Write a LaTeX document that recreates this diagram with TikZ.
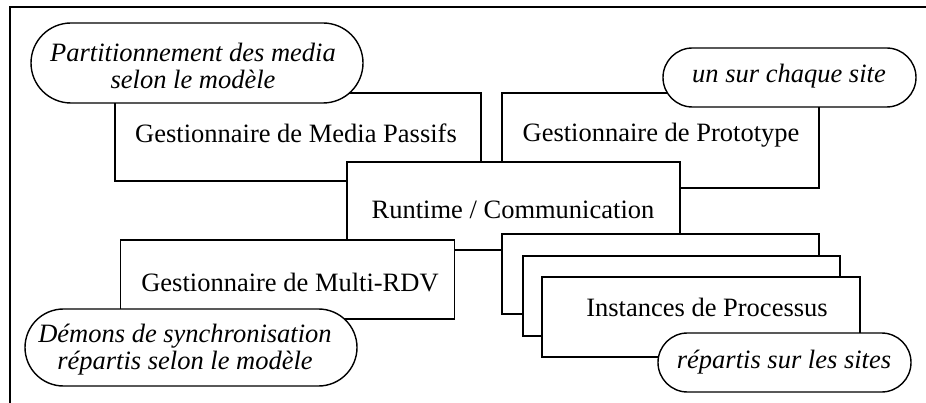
\documentclass[tikz,border=0pt]{standalone}
\usepackage{fontspec}
\setmainfont{Liberation Serif}
\begin{document}
\begin{tikzpicture}[x=1pt,y=-1pt,
  every node/.style={font=\fontsize{26.5}{30}\selectfont},
  modbox/.style={draw, fill=white, line width=1.4pt, inner sep=0pt},
  note/.style={draw, fill=white, line width=1.4pt, inner sep=0pt},
  notetext/.style={inner sep=0pt, align=center,
                   font=\fontsize{26.5}{27}\selectfont\itshape},
  frameline/.style={line width=2.6pt}]
\useasboundingbox (0,0) rectangle (926,403);

% outer frame (top and left sides)
\coordinate (ftr) at (926,7);
\coordinate (ftl) at (10,7);
\coordinate (fbl) at (10,403);
\draw[frameline] (ftr) -- (ftl) -- (fbl);

% managers behind the runtime
\node[modbox, minimum width=366, minimum height=88] (mp) at (298,137) {};
\node (mpt) at (296,133) {Gestionnaire de Media Passifs};
\node[modbox, minimum width=317, minimum height=95] (pr) at (660.5,140.5) {};
\node (prt) at (661,135) {Gestionnaire de Prototype};

% runtime / communication layer
\node[modbox, minimum width=333, minimum height=88] (rt) at (513.5,206) {};
\node (rtt) at (513,210) {Runtime / Communication};

% multi-RDV manager
\node[modbox, minimum width=334, minimum height=79] (mr) at (287.5,279.5) {};
\node (mrt) at (290,283) {Gestionnaire de Multi-RDV};

% stacked process instances
\node[modbox, minimum width=317, minimum height=80] (pi1) at (660.5,274) {};
\node[modbox, minimum width=317, minimum height=80] (pi2) at (681.5,296) {};
\node[modbox, minimum width=318, minimum height=80] (pi3) at (701,317) {};
\node (pit) at (707,307) {Instances de Processus};

% annotations
\node[note, minimum width=332, minimum height=80, rounded corners=40pt] (n1) at (197,63) {};
\node[notetext] (n1t) at (193,66) {Partitionnement des media\\selon le modèle};
\node[note, minimum width=253, minimum height=59, rounded corners=29.5pt] (n2) at (789.5,77.5) {};
\node[notetext] (n2t) at (789,76) {un sur chaque site};
\node[note, minimum width=332, minimum height=77, rounded corners=38.5pt] (n3) at (191,347.5) {};
\node[notetext] (n3t) at (185,350) {Démons de synchronisation\\répartis selon le modèle};
\node[note, minimum width=253, minimum height=59, rounded corners=29.5pt] (n4) at (784.5,362.5) {};
\node[notetext] (n4t) at (784,362) {répartis sur les sites};
\end{tikzpicture}
\end{document}
